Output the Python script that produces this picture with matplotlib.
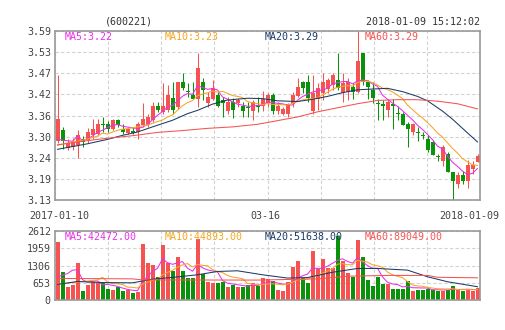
"""Daily K-line with moving averages and volume panel for 600221."""
import numpy as np
import pandas as pd
import matplotlib
matplotlib.use("Agg")
import matplotlib.pyplot as plt

UP = "#f65252"
DOWN = "#0a930a"
C_MA5 = "#e830e8"
C_MA10 = "#f5a623"
C_MA20 = "#1b3b66"
C_MA60 = "#f65252"
GRID = "#d2d2d2"
FRAME = "#9a9a9a"
INK = "#444444"
MONO = "DejaVu Sans Mono"

# --- OHLC / volume --------------------------------------------------------
opens = [3.290, 3.320, 3.272, 3.274, 3.279, 3.295, 3.292, 3.306, 3.311, 3.338,
         3.338, 3.324, 3.347, 3.324, 3.313, 3.317, 3.315, 3.333, 3.338, 3.347,
         3.386, 3.370, 3.374, 3.408, 3.384, 3.450, 3.426, 3.417, 3.406, 3.452,
         3.395, 3.406, 3.417, 3.402, 3.373, 3.397, 3.395, 3.386, 3.384, 3.373,
         3.388, 3.386, 3.393, 3.417, 3.373, 3.365, 3.365, 3.390, 3.414, 3.450,
         3.450, 3.373, 3.406, 3.420, 3.432, 3.443, 3.457, 3.422, 3.425, 3.437,
         3.425, 3.530, 3.452, 3.429, 3.395, 3.390, 3.374, 3.390, 3.367, 3.365,
         3.336, 3.315, 3.315, 3.308, 3.297, 3.288, 3.250, 3.235, 3.256, 3.206,
         3.174, 3.197, 3.183, 3.215, 3.233]
highs = [3.470, 3.330, 3.295, 3.300, 3.320, 3.305, 3.325, 3.350, 3.350, 3.355,
         3.345, 3.350, 3.350, 3.338, 3.329, 3.329, 3.343, 3.393, 3.365, 3.397,
         3.397, 3.448, 3.443, 3.452, 3.452, 3.475, 3.448, 3.452, 3.530, 3.461,
         3.425, 3.457, 3.425, 3.411, 3.411, 3.408, 3.408, 3.397, 3.397, 3.402,
         3.411, 3.426, 3.420, 3.420, 3.397, 3.384, 3.393, 3.425, 3.461, 3.454,
         3.470, 3.470, 3.448, 3.475, 3.461, 3.475, 3.530, 3.475, 3.461, 3.448,
         3.590, 3.530, 3.457, 3.452, 3.406, 3.402, 3.406, 3.406, 3.386, 3.370,
         3.343, 3.340, 3.329, 3.315, 3.306, 3.292, 3.256, 3.280, 3.260, 3.206,
         3.206, 3.210, 3.240, 3.235, 3.256]
lows = [3.285, 3.270, 3.265, 3.265, 3.245, 3.275, 3.285, 3.295, 3.305, 3.315,
        3.315, 3.320, 3.328, 3.311, 3.311, 3.311, 3.297, 3.329, 3.329, 3.343,
        3.370, 3.365, 3.370, 3.365, 3.379, 3.429, 3.411, 3.405, 3.384, 3.402,
        3.384, 3.402, 3.384, 3.356, 3.365, 3.353, 3.384, 3.356, 3.356, 3.347,
        3.370, 3.372, 3.384, 3.365, 3.365, 3.361, 3.356, 3.384, 3.411, 3.420,
        3.397, 3.365, 3.374, 3.402, 3.420, 3.429, 3.429, 3.397, 3.402, 3.406,
        3.420, 3.443, 3.406, 3.395, 3.347, 3.347, 3.356, 3.324, 3.347, 3.333,
        3.274, 3.306, 3.290, 3.295, 3.260, 3.253, 3.235, 3.222, 3.206, 3.130,
        3.164, 3.174, 3.164, 3.200, 3.233]
closes = [3.350, 3.290, 3.286, 3.288, 3.306, 3.288, 3.315, 3.324, 3.338, 3.335,
          3.324, 3.347, 3.333, 3.315, 3.324, 3.313, 3.338, 3.350, 3.356, 3.386,
          3.374, 3.386, 3.416, 3.374, 3.450, 3.436, 3.423, 3.406, 3.489, 3.429,
          3.409, 3.434, 3.386, 3.395, 3.397, 3.374, 3.402, 3.373, 3.380, 3.397,
          3.384, 3.406, 3.417, 3.373, 3.386, 3.377, 3.390, 3.417, 3.438, 3.436,
          3.408, 3.420, 3.434, 3.450, 3.457, 3.470, 3.436, 3.448, 3.452, 3.425,
          3.507, 3.452, 3.438, 3.408, 3.392, 3.386, 3.397, 3.386, 3.363, 3.333,
          3.324, 3.336, 3.312, 3.305, 3.265, 3.253, 3.248, 3.274, 3.206, 3.183,
          3.197, 3.183, 3.226, 3.224, 3.249]
volumes = [2212, 1056, 478, 578, 1395, 352, 553, 679, 641, 641,
           427, 390, 478, 327, 390, 264, 300, 2112, 1395, 1332,
           855, 2087, 1395, 1081, 1609, 1106, 830, 830, 2325, 1000,
           700, 650, 650, 680, 500, 560, 500, 500, 560, 654,
           528, 817, 779, 716, 377, 339, 691, 1257, 1471, 817,
           654, 1860, 1156, 1534, 1194, 1207, 2412, 1460, 1025, 870,
           2255, 1620, 748, 520, 865, 615, 615, 415, 415, 415,
           729, 352, 390, 390, 415, 390, 352, 352, 390, 515,
           390, 352, 390, 352, 453]

# MA5 / MA10 before a full window is available
price_ma5_head = [3.295, 3.293, 3.291, 3.290]
price_ma10_head = [3.279, 3.282, 3.285, 3.288, 3.290, 3.293, 3.296, 3.300, 3.304]
vol_ma5_head = [880, 940, 1000, 1130]
vol_ma10_head = [600, 620, 640, 660, 680, 700, 720, 740, 760]

# long averages (need history before the window)
ma20_idx = [0, 6, 10, 13, 16, 19, 23, 26, 28, 31, 34, 38, 41, 44, 48, 51, 54,
            57, 60, 63, 66, 69, 72, 74, 77, 79, 81, 84]
ma20_val = [3.268, 3.283, 3.295, 3.306, 3.315, 3.329, 3.347, 3.365, 3.374,
            3.391, 3.402, 3.407, 3.406, 3.400, 3.398, 3.404, 3.412, 3.422,
            3.430, 3.432, 3.434, 3.425, 3.412, 3.400, 3.372, 3.350, 3.325, 3.288]
ma60_idx = [0, 5, 10, 15, 20, 25, 30, 35, 40, 44, 48, 52, 56, 60, 64, 68, 72,
            76, 80, 84]
ma60_val = [3.280, 3.290, 3.298, 3.305, 3.314, 3.319, 3.325, 3.329, 3.336,
            3.346, 3.356, 3.370, 3.381, 3.392, 3.401, 3.403, 3.403, 3.399,
            3.392, 3.378]
vma20_idx = [0, 4, 9, 15, 19, 23, 28, 32, 36, 41, 46, 50, 55, 60, 64, 70, 74,
             78, 84]
vma20_val = [590, 700, 660, 650, 790, 855, 955, 1080, 1106, 955, 830, 850,
             1050, 1194, 1194, 1131, 880, 691, 503]
vma60_idx = [0, 15, 17, 40, 52, 58, 66, 74, 76, 84]
vma60_val = [817, 800, 760, 754, 800, 900, 930, 930, 860, 840]

price_ticks = ["3.13", "3.19", "3.24", "3.30", "3.36", "3.42", "3.47", "3.53", "3.59"]
vol_ticks = ["0", "653", "1306", "1959", "2612"]
dates = ["2017-01-10", "03-16", "2018-01-09"]

price_legend = ["MA5:3.22", "MA10:3.23", "MA20:3.29", "MA60:3.29"]
vol_legend = ["MA5:42472.00", "MA10:44893.00", "MA20:51638.00", "MA60:89049.00"]
legend_colors = [C_MA5, C_MA10, C_MA20, C_MA60]

LW = 0.75


def moving_average(values, window, head):
    ma = pd.Series(values, dtype=float).rolling(window).mean().to_numpy()
    ma[:len(head)] = head
    return ma


def style_axes(ax, yticks, ylabels):
    ax.set_xlim(-0.5, len(closes) - 0.5)
    ax.set_xticks(np.linspace(-0.5, len(closes) - 0.5, 9))
    ax.set_xticklabels([])
    ax.set_yticks(yticks)
    ax.set_yticklabels(ylabels, family=MONO, fontsize=7.2, color=INK)
    ax.tick_params(length=0, pad=3)
    ax.grid(True, color=GRID, lw=0.8, ls=(0, (3, 2)))
    ax.set_axisbelow(True)
    for sp in ax.spines.values():
        sp.set_color(FRAME)
        sp.set_linewidth(1.2)
        sp.set_zorder(5)


W, H = 505, 330
fig = plt.figure(figsize=(W / 100, H / 100), dpi=100)
ax = fig.add_axes([55 / W, 1 - 200 / H, 425 / W, 169 / H])
axv = fig.add_axes([55 / W, 1 - 300 / H, 425 / W, 69 / H])

x = np.arange(len(closes))
o, hi, lo, c = (np.asarray(a, dtype=float) for a in (opens, highs, lows, closes))
colors = np.where(c >= o, UP, DOWN)

# candles
ax.vlines(x, lo, hi, colors=colors, lw=LW, zorder=2)
ax.bar(x, np.maximum(np.abs(c - o), 0.0026), 0.8, bottom=np.minimum(o, c),
       color=colors, lw=0, zorder=2)
ax.plot(x, moving_average(closes, 5, price_ma5_head), color=C_MA5, lw=LW, zorder=3)
ax.plot(x, moving_average(closes, 10, price_ma10_head), color=C_MA10, lw=LW, zorder=3)
ax.plot(ma20_idx, ma20_val, color=C_MA20, lw=LW, zorder=3)
ax.plot(ma60_idx, ma60_val, color=C_MA60, lw=LW, zorder=3)
ax.set_ylim(3.13, 3.59)
style_axes(ax, np.linspace(3.13, 3.59, 9), price_ticks)

# volume
axv.bar(x, volumes, 0.8, color=colors, lw=0, zorder=2)
axv.plot(x, moving_average(volumes, 5, vol_ma5_head), color=C_MA5, lw=LW, zorder=3)
axv.plot(x, moving_average(volumes, 10, vol_ma10_head), color=C_MA10, lw=LW, zorder=3)
axv.plot(vma20_idx, vma20_val, color=C_MA20, lw=LW, zorder=3)
axv.plot(vma60_idx, vma60_val, color=C_MA60, lw=LW, zorder=3)
axv.set_ylim(0, 2612)
style_axes(axv, np.linspace(0, 2612, 5), vol_ticks)

# header, legends and date labels
fig.text(128.5 / W, 1 - 22 / H, "(600221)", family=MONO, fontsize=7.2,
         color="#333333", ha="center", va="center")
fig.text(480 / W, 1 - 22 / H, "2018-01-09 15:12:02", family=MONO, fontsize=7.2,
         color="#333333", ha="right", va="center")
for k, (t1, t2, col) in enumerate(zip(price_legend, vol_legend, legend_colors)):
    fig.text((65 + 100 * k) / W, 1 - 36.5 / H, t1, family=MONO, fontsize=7.2,
             color=col, ha="left", va="center", zorder=6)
    fig.text((65 + 100 * k) / W, 1 - 237 / H, t2, family=MONO, fontsize=7.2,
             color=col, ha="left", va="center", zorder=6)
for px, label in zip([59, 265, 469], dates):
    fig.text(px / W, 1 - 216 / H, label, family=MONO, fontsize=7.2,
             color=INK, ha="center", va="center")

fig.savefig("out.png", dpi=100, facecolor="white")
plt.close(fig)
